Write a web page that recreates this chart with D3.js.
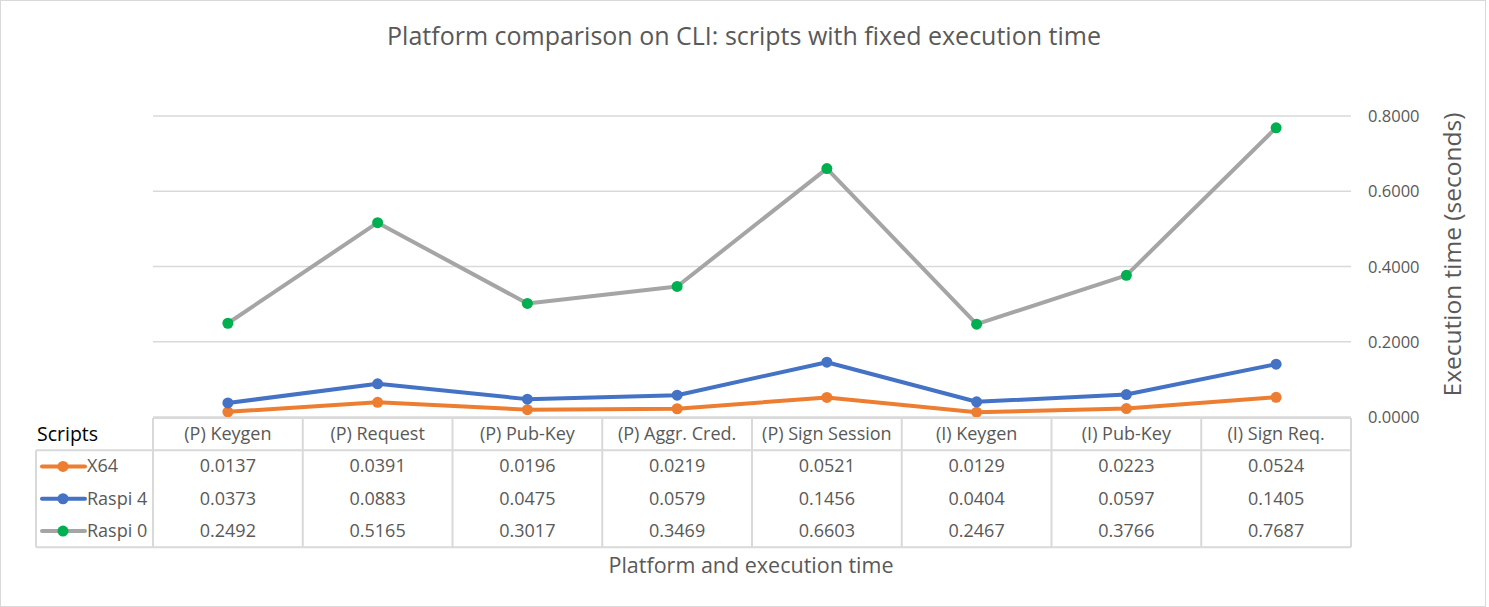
<!DOCTYPE html>
<html lang="en">
<head>
  <meta charset="UTF-8">
  <title>Platform comparison on CLI</title>
  <script src="https://d3js.org/d3.v7.min.js"></script>
  <style>
    body {
      margin: 0;
      background: #fff;
      font-family: "Open Sans", "Noto Sans", Arial, sans-serif;
    }
    svg text { fill: #595959; }
  </style>
</head>
<body>
  <div id="chart"></div>
  <script>
    const categories = ["(P) Keygen", "(P) Request", "(P) Pub-Key", "(P) Aggr. Cred.", "(P) Sign Session", "(I) Keygen", "(I) Pub-Key", "(I) Sign Req."];
    const seriesNames = ["X64", "Raspi 4", "Raspi 0"];
    const x64 = [0.0137, 0.0391, 0.0196, 0.0219, 0.0521, 0.0129, 0.0223, 0.0524];
    const raspi4 = [0.0373, 0.0883, 0.0475, 0.0579, 0.1456, 0.0404, 0.0597, 0.1405];
    const raspi0 = [0.2492, 0.5165, 0.3017, 0.3469, 0.6603, 0.2467, 0.3766, 0.7687];
    const yTicks = [0, 0.2, 0.4, 0.6, 0.8];

    const width = 1489, height = 607;
    const plotLeft = 153, plotRight = 1351, plotTop = 116, plotBottom = 417;
    const rowH = 32.3;

    const series = [
      { name: seriesNames[0], values: x64, line: "#ED7D31", marker: "#ED7D31" },
      { name: seriesNames[1], values: raspi4, line: "#4472C4", marker: "#4472C4" },
      { name: seriesNames[2], values: raspi0, line: "#A5A5A5", marker: "#00B050" }
    ];

    const svg = d3.select("#chart").append("svg")
      .attr("width", width)
      .attr("height", height);

    svg.append("rect")
      .attr("x", 0.5).attr("y", 0.5)
      .attr("width", width - 4).attr("height", height - 1)
      .attr("fill", "#fff")
      .attr("stroke", "#d9d9d9");

    const x = d3.scaleBand().domain(categories).range([plotLeft, plotRight]);
    const y = d3.scaleLinear().domain([0, 0.8]).range([plotBottom, plotTop]);

    // gridlines
    svg.append("g").selectAll("line")
      .data(yTicks)
      .join("line")
      .attr("x1", plotLeft).attr("x2", plotRight)
      .attr("y1", d => y(d)).attr("y2", d => y(d))
      .attr("stroke", "#d9d9d9")
      .attr("stroke-width", 1.3);

    // y axis labels on the right
    svg.append("g").selectAll("text")
      .data(yTicks)
      .join("text")
      .attr("x", 1368)
      .attr("y", d => y(d) + 6)
      .style("font-size", "16.5px")
      .text(d => d3.format(".4f")(d));

    svg.append("text")
      .attr("transform", `translate(1461,${(plotTop + plotBottom) / 2 - 12}) rotate(-90)`)
      .attr("text-anchor", "middle")
      .style("font-size", "24.5px")
      .text("Execution time (seconds)");

    svg.append("text")
      .attr("x", 744).attr("y", 45)
      .attr("text-anchor", "middle")
      .style("font-size", "25px")
      .text("Platform comparison on CLI: scripts with fixed execution time");

    // lines
    const line = d3.line()
      .x((d, i) => x(categories[i]) + x.bandwidth() / 2)
      .y(d => y(d));

    series.forEach(s => {
      svg.append("path")
        .attr("d", line(s.values))
        .attr("fill", "none")
        .attr("stroke", s.line)
        .attr("stroke-width", 4)
        .attr("stroke-linejoin", "round");
      svg.append("g").selectAll("circle")
        .data(s.values)
        .join("circle")
        .attr("cx", (d, i) => x(categories[i]) + x.bandwidth() / 2)
        .attr("cy", d => y(d))
        .attr("r", 5.5)
        .attr("fill", s.marker);
    });

    // data table
    const tbl = svg.append("g");
    const tableLeft = 36;
    const tableTop = plotBottom + 1;
    const tableBottom = tableTop + rowH * 4;
    const gridColor = "#d9d9d9";

    const colEdges = categories.map(c => x(c)).concat([plotRight]);
    tbl.selectAll(".vcol")
      .data(colEdges)
      .join("line")
      .attr("x1", d => d).attr("x2", d => d)
      .attr("y1", tableTop).attr("y2", tableBottom)
      .attr("stroke", gridColor).attr("stroke-width", 2);
    tbl.append("line")
      .attr("x1", plotLeft).attr("x2", plotRight)
      .attr("y1", tableTop).attr("y2", tableTop)
      .attr("stroke", gridColor).attr("stroke-width", 2);
    [1, 4].forEach(k => {
      tbl.append("line")
        .attr("x1", tableLeft).attr("x2", plotRight)
        .attr("y1", tableTop + rowH * k).attr("y2", tableTop + rowH * k)
        .attr("stroke", gridColor).attr("stroke-width", 2);
    });
    tbl.append("line")
      .attr("x1", tableLeft).attr("x2", tableLeft)
      .attr("y1", tableTop + rowH).attr("y2", tableBottom)
      .attr("stroke", gridColor).attr("stroke-width", 2);

    tbl.append("text")
      .attr("x", 37).attr("y", tableTop + rowH / 2 + 7)
      .style("font-size", "19.5px")
      .style("fill", "#000")
      .text("Scripts");

    tbl.selectAll(".hdr")
      .data(categories)
      .join("text")
      .attr("x", d => x(d) + x.bandwidth() / 2)
      .attr("y", tableTop + rowH / 2 + 6)
      .attr("text-anchor", "middle")
      .style("font-size", "18px")
      .text(d => d);

    series.forEach((s, r) => {
      const cy = tableTop + rowH * (r + 1.5);
      tbl.append("line")
        .attr("x1", 42).attr("x2", 85)
        .attr("y1", cy).attr("y2", cy)
        .attr("stroke", s.line).attr("stroke-width", 4)
        .attr("stroke-linecap", "round");
      tbl.append("circle")
        .attr("cx", 63).attr("cy", cy).attr("r", 5.5)
        .attr("fill", s.marker);
      tbl.append("text")
        .attr("x", 87).attr("y", cy + 6)
        .style("font-size", "18px")
        .text(s.name);
      tbl.selectAll(null)
        .data(s.values)
        .join("text")
        .attr("x", (d, i) => x(categories[i]) + x.bandwidth() / 2)
        .attr("y", cy + 6)
        .attr("text-anchor", "middle")
        .style("font-size", "18px")
        .text(d => d3.format(".4f")(d));
    });

    svg.append("text")
      .attr("x", 751).attr("y", 573)
      .attr("text-anchor", "middle")
      .style("font-size", "21.5px")
      .text("Platform and execution time");
  </script>
</body>
</html>
